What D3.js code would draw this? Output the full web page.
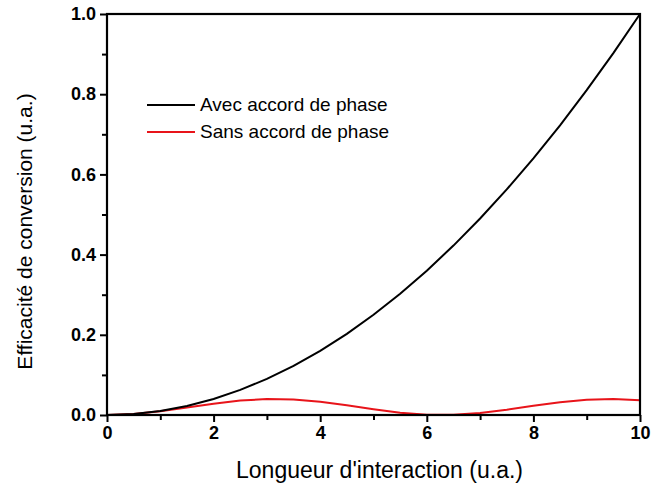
<!DOCTYPE html>
<html>
<head>
<meta charset="utf-8">
<script src="https://cdn.jsdelivr.net/npm/d3@7"></script>
<style>
html,body{margin:0;padding:0;background:#fff;}
svg{display:block;}
</style>
</head>
<body>
<svg id="chart" width="666" height="494"></svg>
<script>
const lengths = [0,0.5,1,1.5,2,2.5,3,3.5,4,4.5,5,5.5,6,6.5,7,7.5,8,8.5,9,9.5,10];
const avecAccord = [0,0.0025,0.01,0.0225,0.04,0.0625,0.09,0.1225,0.16,0.2025,0.25,0.3025,0.36,0.4225,0.49,0.5625,0.64,0.7225,0.81,0.9025,1.0];
const sansAccord = [0,0.0025,0.0092,0.0186,0.0283,0.0360,0.0398,0.0387,0.0331,0.0242,0.0143,0.0058,0.0008,0.0005,0.0049,0.0131,0.0229,0.0320,0.0382,0.0399,0.0368];
const xTicks = [0,2,4,6,8,10];
const yTicks = [0.0,0.2,0.4,0.6,0.8,1.0];
const seriesNames = ["Avec accord de phase","Sans accord de phase"];
const seriesColors = ["#000000","#e8141a"];
const xTitle = "Longueur d'interaction (u.a.)";
const yTitle = "Efficacité de conversion (u.a.)";

const svg = d3.select("#chart");
const L = 107, R = 640, T = 14, B = 415;
const x = d3.scaleLinear().domain([0,10]).range([L,R]);
const y = d3.scaleLinear().domain([0,1]).range([B,T]);

const font = "Arial, 'Liberation Sans', sans-serif";

// series
const line = d3.line().x(d=>x(d[0])).y(d=>y(d[1]));
const g = svg.append("g");
g.append("path").datum(lengths.map((l,i)=>[l,sansAccord[i]]))
  .attr("d", line).attr("fill","none").attr("stroke",seriesColors[1]).attr("stroke-width",2);
g.append("path").datum(lengths.map((l,i)=>[l,avecAccord[i]]))
  .attr("d", line).attr("fill","none").attr("stroke",seriesColors[0]).attr("stroke-width",2);

// frame
svg.append("rect").attr("x",L).attr("y",T).attr("width",R-L).attr("height",B-T)
  .attr("fill","none").attr("stroke","#000").attr("stroke-width",2.2);

// axes
const xAxis = d3.axisBottom(x).tickValues(xTicks).tickFormat(d3.format("d")).tickSize(7).tickPadding(4);
const xg = svg.append("g").attr("transform",`translate(0,${B})`).call(xAxis);
xg.select(".domain").remove();
xg.selectAll(".tick line").attr("stroke","#000").attr("stroke-width",2);
xg.selectAll("text").attr("font-family",font).attr("font-weight","bold").attr("font-size",18).attr("fill","#000");
const xMinor = d3.axisBottom(x).tickValues([1,3,5,7,9]).tickFormat("").tickSize(5);
const xmg = svg.append("g").attr("transform",`translate(0,${B})`).call(xMinor);
xmg.select(".domain").remove();
xmg.selectAll(".tick line").attr("stroke","#000").attr("stroke-width",2);

const yAxis = d3.axisLeft(y).tickValues(yTicks).tickFormat(d3.format(".1f")).tickSize(7).tickPadding(4);
const yg = svg.append("g").attr("transform",`translate(${L},0)`).call(yAxis);
yg.select(".domain").remove();
yg.selectAll(".tick line").attr("stroke","#000").attr("stroke-width",2);
yg.selectAll("text").attr("font-family",font).attr("font-weight","bold").attr("font-size",18).attr("fill","#000");
const yMinor = d3.axisLeft(y).tickValues([0.1,0.3,0.5,0.7,0.9]).tickFormat("").tickSize(5);
const ymg = svg.append("g").attr("transform",`translate(${L},0)`).call(yMinor);
ymg.select(".domain").remove();
ymg.selectAll(".tick line").attr("stroke","#000").attr("stroke-width",2);

// titles
svg.append("text").attr("x",(L+R)/2+6).attr("y",478).attr("text-anchor","middle")
  .attr("font-family",font).attr("font-size",23).attr("fill","#000").text(xTitle);
svg.append("text").attr("transform",`translate(32,${(T+B)/2+17}) rotate(-90)`).attr("text-anchor","middle")
  .attr("font-family",font).attr("font-size",21).attr("fill","#000").text(yTitle);

// legend
const lg = svg.append("g");
seriesNames.forEach((name,i)=>{
  const yy = 105 + i*27;
  lg.append("line").attr("x1",147).attr("x2",195).attr("y1",yy).attr("y2",yy)
    .attr("stroke",seriesColors[i]).attr("stroke-width",2);
  lg.append("text").attr("x",200).attr("y",yy+6).attr("font-family",font).attr("font-size",19)
    .attr("fill","#000").text(name);
});
</script>
</body>
</html>
